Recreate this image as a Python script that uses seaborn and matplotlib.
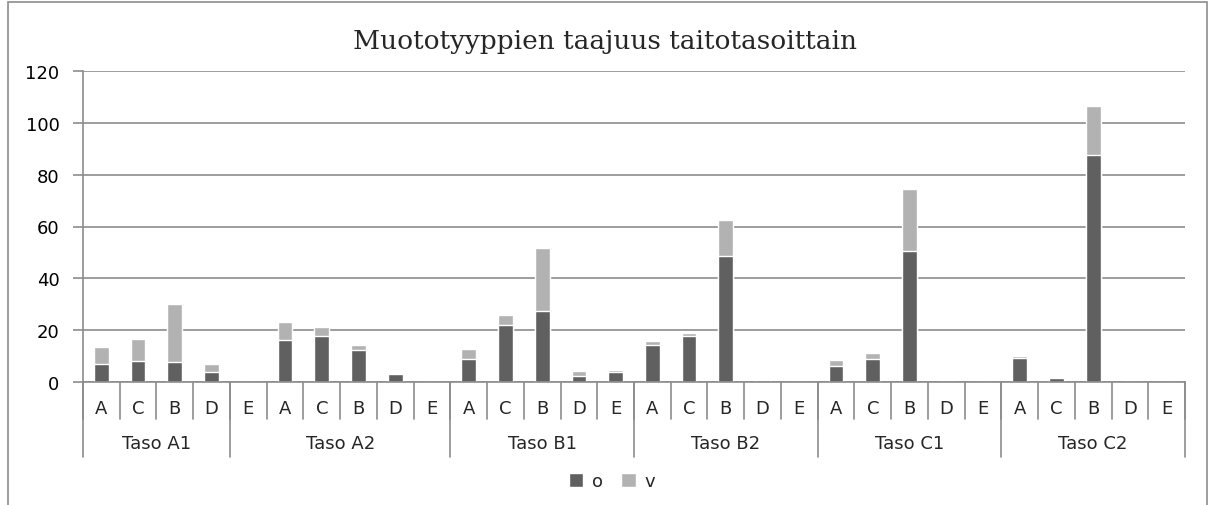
import matplotlib
matplotlib.use("Agg")
import matplotlib.pyplot as plt
import matplotlib.patches as mpatches
import matplotlib.transforms as mtransforms
import seaborn as sns
import numpy as np
import pandas as pd

# category letters as they appear under the bars (30 slots)
tick_labels = ["A", "C", "B", "D", "E"] * 6
# group brackets below the letters and how many slots each spans
groups = ["Taso A1", "Taso A2", "Taso B1", "Taso B2", "Taso C1", "Taso C2"]
group_sizes = [4, 6, 5, 5, 5, 5]

o_vals = [7.0, 8.3, 8.0, 4.1, 0, 16.4, 18.0, 12.6, 3.2, 0,
          9.0, 22.2, 27.3, 2.6, 4.1, 14.2, 18.0, 48.5, 0.9, 0,
          6.4, 9.0, 50.7, 0, 0, 9.5, 1.5, 87.7, 0, 0]
v_vals = [6.7, 8.5, 22.0, 3.0, 0, 6.8, 3.2, 1.8, 0, 0,
          3.7, 3.6, 24.4, 1.6, 0.6, 1.7, 1.0, 13.9, 0.4, 0,
          2.1, 2.2, 23.8, 0, 0, 0.6, 0.7, 18.8, 0, 0]

DARK = "#606060"
LIGHT = "#b2b2b2"
GRID = "#8c8c8c"

sns.set_style("white")
plt.rcParams["font.family"] = ["DejaVu Sans"]
plt.rcParams["ytick.left"] = True
plt.rcParams["ytick.major.size"] = 7
plt.rcParams["ytick.major.width"] = 1.2
plt.rcParams["ytick.major.pad"] = 10
plt.rcParams["ytick.color"] = GRID
plt.rcParams["ytick.labelcolor"] = "black"

slots = [str(i) for i in range(len(tick_labels))]
df = pd.DataFrame({"slot": slots, "o": o_vals, "v": v_vals})
df["total"] = df["o"] + df["v"]

fig = plt.figure(figsize=(12.11, 5.06), dpi=100)
ax = fig.add_axes([83 / 1211, 1 - 383.3 / 506, 1102 / 1211, 311.6 / 506])

sns.barplot(data=df, x="slot", y="total", order=slots, color=LIGHT,
            saturation=1, width=0.4, ax=ax, label="v")
sns.barplot(data=df, x="slot", y="o", order=slots, color=DARK,
            saturation=1, width=0.4, ax=ax, label="o")
if ax.get_legend() is not None:
    ax.get_legend().remove()

ax.set_ylim(0, 120)
ax.set_xlim(-0.5, len(slots) - 0.5)
ax.set_yticks(np.arange(0, 121, 20))
ax.yaxis.grid(True, color=GRID, linewidth=1.2)
ax.set_axisbelow(True)
ax.tick_params(axis="y", labelsize=13)
ax.set_xticks([])
ax.set_xlabel("")
ax.set_ylabel("")
for s in ["top", "right"]:
    ax.spines[s].set_visible(False)
for s in ["left", "bottom"]:
    ax.spines[s].set_color(GRID)
    ax.spines[s].set_linewidth(1.2)

# two-level category axis
trans = mtransforms.blended_transform_factory(ax.transData, ax.transAxes)
for i, lab in enumerate(tick_labels):
    ax.text(i, -0.083, lab, transform=trans, ha="center", va="center",
            fontsize=13, clip_on=False)
for i in range(len(tick_labels) + 1):
    ax.plot([i - 0.5, i - 0.5], [0, -0.117], transform=trans, color=GRID,
            linewidth=1.2, clip_on=False)
start = 0
for name, size in zip(groups, group_sizes):
    ax.plot([start - 0.5, start - 0.5], [0, -0.24], transform=trans,
            color=GRID, linewidth=1.2, clip_on=False)
    ax.text(start + (size - 1) / 2, -0.195, name, transform=trans,
            ha="center", va="center", fontsize=13, clip_on=False)
    start += size
ax.plot([start - 0.5, start - 0.5], [0, -0.24], transform=trans,
        color=GRID, linewidth=1.2, clip_on=False)

fig.text(605 / 1211, 1 - 41 / 506, "Muototyyppien taajuus taitotasoittain",
         ha="center", va="center", fontsize=19, family="DejaVu Serif")

handles, labels = ax.get_legend_handles_labels()
order = [labels.index("o"), labels.index("v")]
fig.legend([handles[k] for k in order], [labels[k] for k in order],
           loc="center", bbox_to_anchor=(612 / 1211, 1 - 482 / 506), ncol=2,
           frameon=False, fontsize=13, handlelength=0.8, handleheight=0.8,
           columnspacing=1.0, handletextpad=0.5)

fig.patches.append(mpatches.Rectangle((8 / 1211, -0.2), 1199 / 1211, 1.194,
                                      transform=fig.transFigure, fill=False,
                                      edgecolor=GRID, linewidth=1.2))

fig.savefig("out.png", dpi=100)
